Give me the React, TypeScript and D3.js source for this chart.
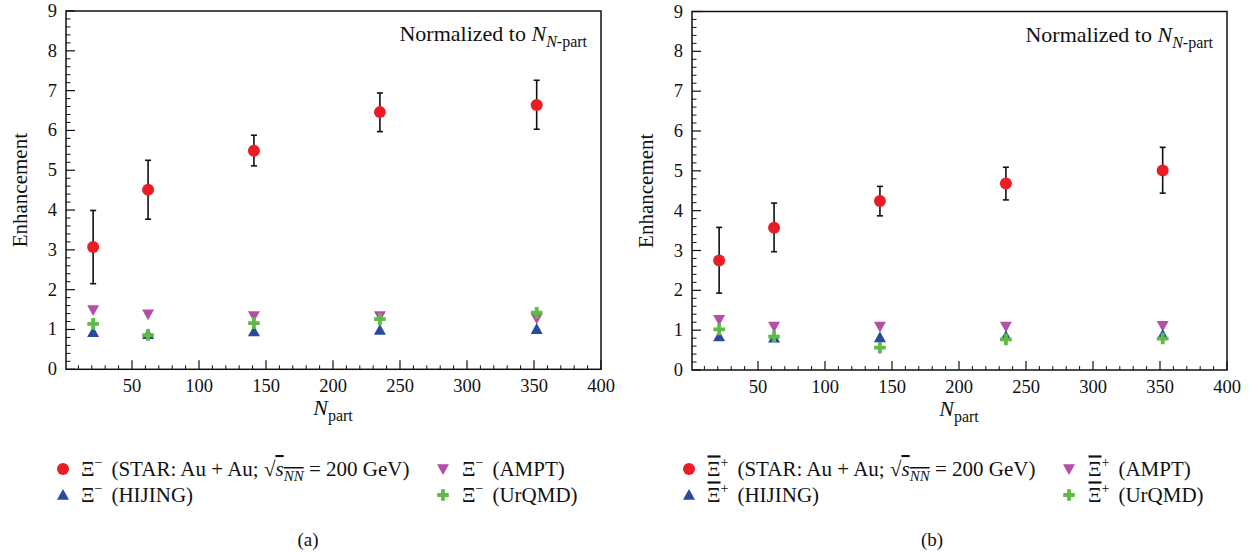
import React from "react";
import * as d3 from "d3";

const nPart = [21, 62, 141, 235, 352];

// Panel (a): Xi-
const starA = [3.07, 4.51, 5.49, 6.46, 6.64];
const starAHi = [3.99, 5.25, 5.88, 6.94, 7.26];
const starALo = [2.15, 3.77, 5.11, 5.97, 6.03];
const amptA = [1.49, 1.38, 1.34, 1.34, 1.28];
const hijingA = [0.93, 0.88, 0.95, 0.99, 1.01];
const urqmdA = [1.14, 0.86, 1.16, 1.26, 1.42];

// Panel (b): anti-Xi+
const starB = [2.75, 3.57, 4.24, 4.68, 5.01];
const starBHi = [3.58, 4.19, 4.61, 5.09, 5.59];
const starBLo = [1.93, 2.97, 3.87, 4.27, 4.44];
const amptB = [1.26, 1.09, 1.09, 1.09, 1.11];
const hijingB = [0.84, 0.81, 0.82, 0.85, 0.88];
const urqmdB = [1.02, 0.84, 0.56, 0.77, 0.79];

const xTickLabels = [50, 100, 150, 200, 250, 300, 350, 400];
const yTickLabels = [0, 1, 2, 3, 4, 5, 6, 7, 8, 9];

const RED = "#ec1c24";
const BLUE = "#2b4a9e";
const PINK = "#b54ea6";
const GREEN = "#5dbb46";
const FONT = "'Liberation Serif', 'DejaVu Serif', serif";

type PanelProps = {
  x0: number; x1: number; y0: number; y1: number;
  star: number[]; hi: number[]; lo: number[];
  ampt: number[]; hijing: number[]; urqmd: number[];
};

const triUp = (cx: number, cy: number, s = 6) =>
  `M${cx},${cy - s} L${cx + s},${cy + s * 0.8} L${cx - s},${cy + s * 0.8}Z`;
const triDown = (cx: number, cy: number, s = 6) =>
  `M${cx},${cy + s} L${cx + s},${cy - s * 0.8} L${cx - s},${cy - s * 0.8}Z`;
const plusPath = (cx: number, cy: number, a = 5.8, w = 1.9) =>
  `M${cx - w},${cy - a} H${cx + w} V${cy - w} H${cx + a} V${cy + w} H${cx + w} V${cy + a} H${cx - w} V${cy + w} H${cx - a} V${cy - w} H${cx - w}Z`;

function Panel(p: PanelProps) {
  const x = d3.scaleLinear().domain([0, 400]).range([p.x0, p.x1]);
  const y = d3.scaleLinear().domain([0, 9]).range([p.y0, p.y1]);
  const frameL = x(0) + 1;
  const xMinor = d3.range(10, 400, 10).filter((v) => v % 50 !== 0);
  const yMinor = d3.range(0, 9, 0.2).filter((v) => Math.abs(v - Math.round(v)) > 0.01);
  return (
    <g>
      {nPart.map((n, i) => (
        <g key={"e" + i} stroke="#111" strokeWidth={1.6}>
          <line x1={x(n)} x2={x(n)} y1={y(p.hi[i])} y2={y(p.lo[i])} />
          <line x1={x(n) - 3} x2={x(n) + 3} y1={y(p.hi[i])} y2={y(p.hi[i])} />
          <line x1={x(n) - 3} x2={x(n) + 3} y1={y(p.lo[i])} y2={y(p.lo[i])} />
        </g>
      ))}
      {nPart.map((n, i) => (
        <path key={"a" + i} d={triDown(x(n), y(p.ampt[i]))} fill={PINK} />
      ))}
      {nPart.map((n, i) => (
        <path key={"h" + i} d={triUp(x(n), y(p.hijing[i]))} fill={BLUE} />
      ))}
      {nPart.map((n, i) => (
        <path key={"u" + i} d={plusPath(x(n), y(p.urqmd[i]))} fill={GREEN} />
      ))}
      {nPart.map((n, i) => (
        <circle key={"s" + i} cx={x(n)} cy={y(p.star[i])} r={6} fill={RED} />
      ))}
      <rect x={frameL} y={y(9)} width={x(400) - frameL} height={y(0) - y(9)} fill="none" stroke="#111" strokeWidth={1.5} />
      {xTickLabels.map((v) => (
        <line key={"xt" + v} x1={x(v)} x2={x(v)} y1={y(0)} y2={y(0) - 9} stroke="#111" strokeWidth={1.2} />
      ))}
      {xMinor.map((v) => (
        <line key={"xm" + v} x1={x(v)} x2={x(v)} y1={y(0)} y2={y(0) - 4} stroke="#111" strokeWidth={1} />
      ))}
      {yTickLabels.map((v) => (
        <line key={"yt" + v} x1={frameL} x2={frameL + 9} y1={y(v)} y2={y(v)} stroke="#111" strokeWidth={1.2} />
      ))}
      {yMinor.map((v, i) => (
        <line key={"ym" + i} x1={frameL} x2={frameL + 4.5} y1={y(v)} y2={y(v)} stroke="#111" strokeWidth={1} />
      ))}
      {xTickLabels.map((v) => (
        <text key={"xl" + v} x={x(v)} y={y(0) + 23} textAnchor="middle" fontSize={18.5} fontFamily={FONT} fill="#111">{v}</text>
      ))}
      {yTickLabels.map((v) => (
        <text key={"yl" + v} x={frameL - 9} y={y(v) + 6} textAnchor="end" fontSize={18.5} fontFamily={FONT} fill="#111">{v}</text>
      ))}
      <text transform={`translate(${p.x0 - 38},${y(4.5)}) rotate(-90)`} textAnchor="middle" fontSize={21} fontFamily={FONT} fill="#111">Enhancement</text>
      <text x={x(200)} y={y(0) + 46} textAnchor="middle" fontSize={22} fontFamily={FONT} fill="#111">
        <tspan fontStyle="italic">N</tspan>
        <tspan fontSize={16} dy={6}>part</tspan>
      </text>
      <text x={x(400) - 14} y={y(9) + 30} textAnchor="end" fontSize={22} fontFamily={FONT} fill="#111">
        Normalized to <tspan fontStyle="italic">N</tspan>
        <tspan fontSize={16} dy={6}><tspan fontStyle="italic">N</tspan>-part</tspan>
      </text>
    </g>
  );
}

function Row({ x, y, anti, children }: { x: number; y: number; anti: boolean; children: React.ReactNode }) {
  return (
    <g>
      {anti && <line x1={x + 0.5} x2={x + 13.5} y1={y - 19.5} y2={y - 19.5} stroke="#111" strokeWidth={2.2} />}
      <text x={x} y={y}>
        <tspan>Ξ</tspan>
        <tspan fontSize={14} dy={-9}>{anti ? "+" : "−"}</tspan>
        <tspan dy={9} dx={9}>{children}</tspan>
      </text>
    </g>
  );
}

function Legend({ x0, anti }: { x0: number; anti: boolean }) {
  const r1 = 469, r2 = 495;
  const xb = x0 + 380;
  return (
    <g fontFamily={FONT} fontSize={21} fill="#111">
      <circle cx={x0} cy={r1} r={6} fill={RED} />
      <Row x={x0 + 18} y={r1 + 7} anti={anti}>
        (STAR: Au + Au; <tspan>√</tspan>
        <tspan fontStyle="italic" style={{ textDecoration: "overline" }}>s<tspan fontSize={15} dy={5}>NN</tspan></tspan>
        <tspan dy={-5}> = 200 GeV)</tspan>
      </Row>
      <path d={triUp(x0, r2)} fill={BLUE} />
      <Row x={x0 + 18} y={r2 + 7} anti={anti}>(HIJING)</Row>
      <path d={triDown(xb, r1)} fill={PINK} />
      <Row x={xb + 19} y={r1 + 7} anti={anti}>(AMPT)</Row>
      <path d={plusPath(xb, r2)} fill={GREEN} />
      <Row x={xb + 19} y={r2 + 7} anti={anti}>(UrQMD)</Row>
    </g>
  );
}

export default function App() {
  return (
    <svg width={1250} height={557} style={{ position: "absolute", left: 0, top: 0, background: "#fff" }}>
      <rect width={1250} height={557} fill="#fff" />
      <Panel x0={65} x1={601} y0={369.3} y1={11} star={starA} hi={starAHi} lo={starALo} ampt={amptA} hijing={hijingA} urqmd={urqmdA} />
      <Panel x0={691} x1={1227} y0={370} y1={11.5} star={starB} hi={starBHi} lo={starBLo} ampt={amptB} hijing={hijingB} urqmd={urqmdB} />
      <Legend x0={63} anti={false} />
      <Legend x0={689} anti={true} />
      <text x={308} y={546} textAnchor="middle" fontSize={19} fontFamily={FONT} fill="#111">(a)</text>
      <text x={932} y={546} textAnchor="middle" fontSize={19} fontFamily={FONT} fill="#111">(b)</text>
    </svg>
  );
}
